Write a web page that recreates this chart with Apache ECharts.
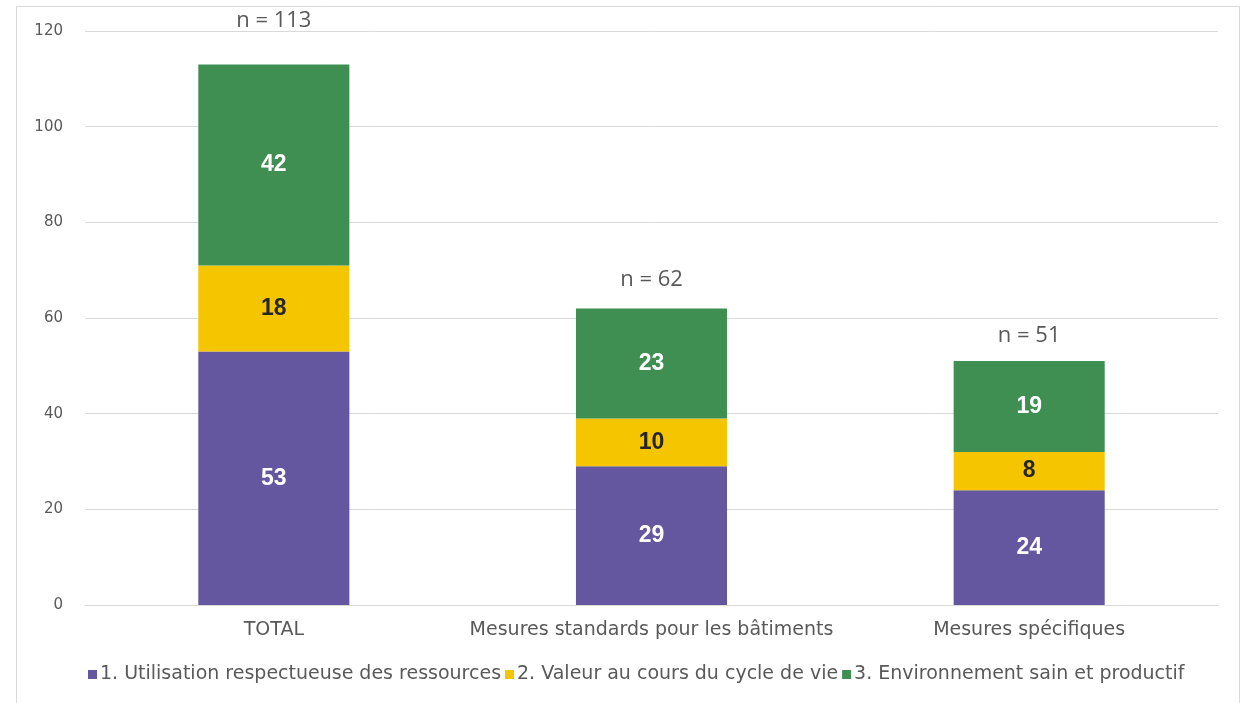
<!DOCTYPE html>
<html>
<head>
<meta charset="utf-8">
<script src="https://cdn.jsdelivr.net/npm/echarts@6/dist/echarts.min.js"></script>
<style>
  html, body { margin: 0; padding: 0; background: #fff; }
  #chart { width: 1253px; height: 703px; }
</style>
</head>
<body>
<div id="chart"></div>
<script>
// 数据
var categories = ["TOTAL", "Mesures standards pour les bâtiments", "Mesures spécifiques"];
var seriesNames = [
  "1. Utilisation respectueuse des ressources",
  "2. Valeur au cours du cycle de vie",
  "3. Environnement sain et productif"
];
var ressources = [53, 29, 24];
var valeur = [18, 10, 8];
var environnement = [42, 23, 19];
var yTicks = [0, 20, 40, 60, 80, 100, 120];

(function() {
  var myChart = echarts.init(document.getElementById("chart"));
  var font = "DejaVu Sans, sans-serif";
  var totals = categories.map(function(c, i) {
    return ressources[i] + valeur[i] + environnement[i];
  });
  // 顶部 n = xx 标签的距离
  var topDist = [33, 18, 14];

  function segLabel(color) {
    return {
      show: true,
      position: "inside",
      color: color,
      fontFamily: "Liberation Sans, Arial, sans-serif",
      fontWeight: "bold",
      fontSize: 23
    };
  }

  var option = {
    animation: false,
    color: ["#64579f", "#f5c500", "#3f8e52"],
    graphic: [
      {
        type: "rect",
        shape: { x: 16.5, y: 6.5, width: 1223, height: 720 },
        style: { fill: "none", stroke: "#d9d9d9", lineWidth: 1 },
        silent: true
      }
    ],
    grid: {
      left: 85,
      right: 35,
      top: 31,
      bottom: 98
    },
    legend: {
      data: seriesNames,
      bottom: 14,
      left: 83,
      itemWidth: 9,
      itemHeight: 9,
      itemGap: 4,
      icon: "rect",
      textStyle: {
        color: "#595959",
        fontFamily: font,
        fontSize: 19,
        padding: [0, 0, 0, -2]
      }
    },
    xAxis: {
      type: "category",
      data: categories,
      axisTick: { show: false },
      axisLine: { lineStyle: { color: "#d9d9d9" } },
      axisLabel: {
        interval: 0,
        color: "#595959",
        fontFamily: font,
        fontSize: 19,
        margin: 16
      }
    },
    yAxis: {
      type: "value",
      min: yTicks[0],
      max: yTicks[yTicks.length - 1],
      interval: yTicks[1] - yTicks[0],
      axisLabel: {
        color: "#595959",
        fontFamily: font,
        fontSize: 15,
        margin: 22
      },
      splitLine: { lineStyle: { color: "#d9d9d9" } }
    },
    series: [
      {
        name: seriesNames[0],
        type: "bar",
        stack: "s",
        barWidth: "40%",
        data: ressources,
        label: segLabel("#ffffff")
      },
      {
        name: seriesNames[1],
        type: "bar",
        stack: "s",
        data: valeur,
        label: segLabel("#262626")
      },
      {
        name: seriesNames[2],
        type: "bar",
        stack: "s",
        data: environnement,
        label: segLabel("#ffffff")
      },
      {
        name: "total",
        type: "bar",
        stack: "s",
        silent: true,
        data: totals.map(function(t, i) {
          return {
            value: 0,
            label: {
              show: true,
              position: "top",
              distance: topDist[i],
              formatter: "n = " + t,
              color: "#595959",
              fontFamily: "Open Sans, Liberation Sans, sans-serif",
              fontSize: 22
            }
          };
        })
      }
    ]
  };

  myChart.setOption(option);
  window.addEventListener("resize", function() {
    myChart.resize();
  });
})();
</script>
</body>
</html>
